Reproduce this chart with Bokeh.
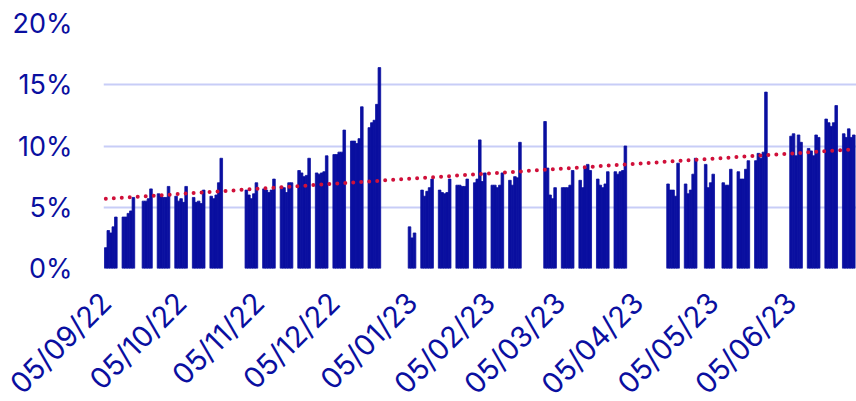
import math
import numpy as np
import pandas as pd
from bokeh.plotting import figure
from bokeh.models import FixedTicker, PrintfTickFormatter, Range1d, DatetimeTickFormatter, ColumnDataSource
from bokeh.embed import file_html
from bokeh.resources import INLINE

# ---- data (percent), one row per week; None = no value that day ----
week_start = ["2022-09-05", "2022-09-12", "2022-09-19", "2022-09-26", "2022-10-03",
              "2022-10-10", "2022-10-17", "2022-10-31", "2022-11-07", "2022-11-14",
              "2022-11-21", "2022-11-28", "2022-12-05", "2022-12-12", "2022-12-19",
              "2023-01-02", "2023-01-09", "2023-01-16", "2023-01-23", "2023-01-30",
              "2023-02-06", "2023-02-13", "2023-02-27", "2023-03-06", "2023-03-13",
              "2023-03-20", "2023-03-27", "2023-04-17", "2023-04-24", "2023-05-01",
              "2023-05-08", "2023-05-15", "2023-05-22", "2023-06-05", "2023-06-12",
              "2023-06-19", "2023-06-26"]
mon = [1.7, 4.2, None, 6.1, 5.9, 5.8, 5.9, 6.4, 6.5, 6.7, 8.0, 7.8, 9.3, 10.4, 11.5,
       None, 6.4, 6.4, 6.8, 7.0, 6.8, 7.2, 12.0, 6.6, 7.2, 7.3, 7.9, 6.9, 6.9, None,
       None, 7.9, 8.8, 10.8, 9.8, 12.2, 11.0]
tue = [3.1, 4.2, 5.5, 6.0, 5.5, 5.4, 5.7, 6.0, 6.4, 6.6, 7.8, 7.7, 9.3, 10.4, 11.9,
       None, 5.9, 6.2, 6.8, 7.3, 6.8, 6.8, 8.2, 6.6, 6.6, 6.8, 7.7, 6.4, 6.1, 8.5,
       7.0, 7.3, 9.4, 11.0, 9.6, 11.9, 10.7]
wed = [2.9, 4.5, 5.5, 5.8, 5.7, 5.5, 6.0, 5.7, 6.2, 6.2, 7.5, 7.8, 9.5, 10.2, 12.1,
       3.4, 6.3, 6.1, 6.7, 10.5, 6.6, 7.5, 6.0, 6.6, 8.2, 6.6, 7.9, 6.4, 6.4, 6.6,
       6.8, 7.3, 9.0, 9.2, 9.2, 11.6, 11.4]
thu = [3.4, 4.7, 5.7, 5.8, 5.4, 5.3, 7.0, 6.1, 6.4, 7.0, 7.6, 7.9, 9.5, 10.6, 13.4,
       2.5, 6.6, 6.2, 6.7, 7.1, 6.8, 7.4, 5.7, 6.8, 8.5, 6.9, 8.0, 5.9, 7.7, 7.0,
       6.8, 8.1, 9.5, 10.9, 10.9, 11.9, 10.7]
fri = [4.2, 5.8, 6.5, 6.7, 6.7, 6.4, 9.0, 7.0, 7.3, 7.0, 9.0, 9.2, 11.3, 13.2, 16.4,
       2.9, 7.3, 7.3, 7.3, 7.8, 7.8, 10.3, 6.6, 8.0, 8.0, 7.9, 10.0, 8.6, 9.0, 7.7,
       8.1, 8.8, 14.4, 10.3, 10.7, 13.3, 10.9]

tick_dates = ["2022-09-05", "2022-10-05", "2022-11-05", "2022-12-05", "2023-01-05",
              "2023-02-05", "2023-03-05", "2023-04-05", "2023-05-05", "2023-06-05"]
y_ticks = [0, 5, 10, 15, 20]

BLUE = "#0A0FA0"
RED = "#D0103A"
GRID = "#C8CDF7"
FONT = "Inter"
DAY_MS = 86400000

dates, vals = [], []
for i, ws in enumerate(week_start):
    base = pd.Timestamp(ws)
    for j, arr in enumerate([mon, tue, wed, thu, fri]):
        v = arr[i]
        if v is not None:
            dates.append(base + pd.Timedelta(days=j))
            vals.append(v)

src = ColumnDataSource(dict(date=dates, val=vals))

x_start = pd.Timestamp("2022-09-05") - pd.Timedelta(hours=22)
x_end = x_start + pd.Timedelta(days=300)

p = figure(width=856, height=416, x_axis_type="datetime", output_backend="svg",
           toolbar_location=None, x_range=Range1d(x_start, x_end), y_range=Range1d(0, 20),
           min_border_left=103, min_border_right=0, min_border_top=23, min_border_bottom=148)
p.outline_line_color = None
p.background_fill_color = "white"
p.border_fill_color = "white"

p.vbar(x="date", top="val", bottom=0, width=DAY_MS * 1.04, source=src,
       fill_color=BLUE, line_color=BLUE, line_width=0.8)

# linear trend line fitted to the series
days = np.array([(d - dates[0]).days for d in dates], dtype=float)
slope, inter = np.polyfit(days, np.array(vals), 1)
tx = [dates[0], dates[-1]]
ty = [inter, inter + slope * days[-1]]
p.line(tx, ty, line_color=RED, line_width=4, line_dash="0 8", line_cap="round")

p.xgrid.visible = False
p.ygrid.grid_line_color = GRID
p.ygrid.grid_line_width = 2
p.ygrid.ticker = FixedTicker(ticks=y_ticks)

p.yaxis.ticker = FixedTicker(ticks=y_ticks)
p.yaxis.formatter = PrintfTickFormatter(format="%d%%")
p.yaxis.axis_line_color = None
p.yaxis.major_tick_line_color = None
p.yaxis.minor_tick_line_color = None
p.yaxis.major_label_text_font = FONT
p.yaxis.major_label_text_font_size = "27px"
p.yaxis.major_label_text_color = BLUE
p.yaxis.major_label_standoff = 25

tick_ms = [pd.Timestamp(t).value // 10**6 for t in tick_dates]
p.xaxis.ticker = FixedTicker(ticks=tick_ms)
fmt = "%d/%m/%y"
p.xaxis.formatter = DatetimeTickFormatter(milliseconds=fmt, seconds=fmt, minsec=fmt, minutes=fmt,
                                          hourmin=fmt, hours=fmt, days=fmt, months=fmt, years=fmt)
p.xaxis.major_label_orientation = math.pi / 4
p.xaxis.axis_line_color = None
p.xaxis.major_tick_line_color = None
p.xaxis.minor_tick_line_color = None
p.xaxis.major_label_text_font = FONT
p.xaxis.major_label_text_font_size = "29px"
p.xaxis.major_label_text_color = BLUE
p.xaxis.major_label_standoff = 23

open("out.html", "w").write(file_html(p, INLINE))
